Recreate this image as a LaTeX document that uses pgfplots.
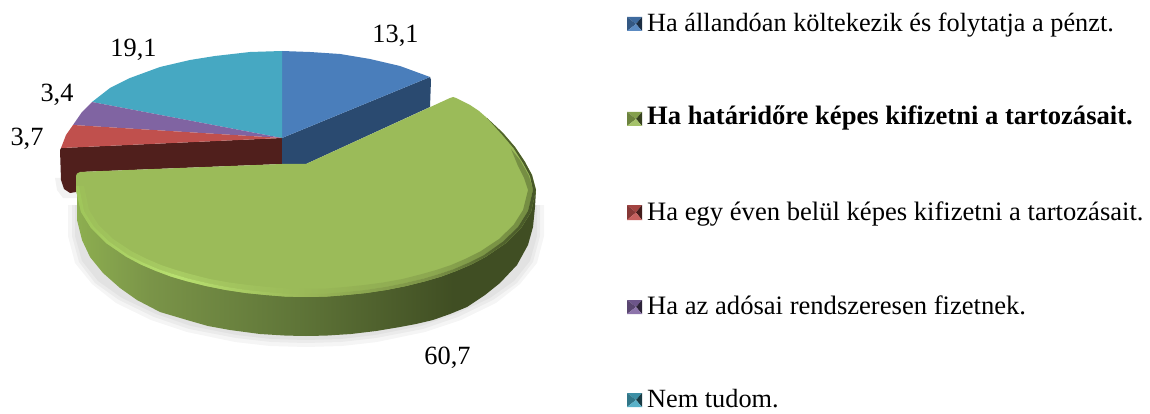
\documentclass[border=0pt]{standalone}
\usepackage{fontspec}
\setmainfont{Liberation Serif}
\usepackage{pgfplots}
\pgfplotsset{compat=1.18}
\definecolor{cblue}{HTML}{4A7EBB}
\definecolor{cgreen}{HTML}{9BBB59}
\definecolor{cred}{HTML}{C0504D}
\definecolor{cpurple}{HTML}{8064A2}
\definecolor{cteal}{HTML}{46A8C2}
\definecolor{dblue}{HTML}{2A4A70}
\definecolor{dred}{HTML}{501F1C}
\definecolor{sa}{HTML}{8DAE50}\definecolor{sb}{HTML}{7A9448}\definecolor{sc}{HTML}{5F7538}\definecolor{sd}{HTML}{404E23}
\definecolor{ra}{HTML}{9FC55A}\definecolor{rb}{HTML}{B8E070}\definecolor{rc}{HTML}{9AB858}\definecolor{rd}{HTML}{7A9046}\definecolor{re}{HTML}{55672F}\definecolor{rf}{HTML}{465628}
\pgfdeclarehorizontalshading{greenside}{100bp}{color(0bp)=(sa); color(25bp)=(sa); color(33bp)=(sb); color(49bp)=(sc); color(66bp)=(sd); color(75bp)=(sd); color(100bp)=(sd)}
\pgfdeclarehorizontalshading{greenrim}{100bp}{color(0bp)=(ra); color(25bp)=(ra); color(36bp)=(rb); color(50bp)=(rc); color(64bp)=(rd); color(70bp)=(re); color(75bp)=(rf); color(100bp)=(rf)}
\newcommand{\legrow}[4]{% top y, mid y, bottom y, colour
  \addplot[fill=#4!85!black,draw=none] coordinates {(627,#1) (642,#1) (636,#2)} -- cycle;
  \addplot[fill=#4!70!black,draw=none] coordinates {(627,#1) (636,#2) (627,#3)} -- cycle;
  \addplot[fill=#4!35!black,draw=none] coordinates {(642,#1) (636,#2) (642,#3)} -- cycle;
  \addplot[fill=#4!90!white,draw=none] coordinates {(627,#3) (642,#3) (636,#2)} -- cycle;
}
\newcommand{\txt}{\fontsize{26.3}{29}\selectfont}
\newcommand{\txtb}{\fontsize{26.6}{29}\selectfont}
\begin{document}
\begin{tikzpicture}
\begin{axis}[
  scale only axis, width=1150pt, height=414pt,
  xmin=0, xmax=1150, ymin=0, ymax=414, y dir=reverse,
  hide axis, clip=false, no marks,
]
\addplot[draw=none,forget plot] coordinates {(0,0) (1150,414)};
% ---- shadow
\addplot[fill=black,fill opacity=0.04,draw=none] coordinates {(68,205)(68,236)(75,263)(92,284)(116,303)(151,320)(187,332)(235,342)(270,346)(306,347)(342,346)(377,342)(425,332)(461,320)(496,303)(520,284)(537,263)(544,236)(544,205)} -- cycle;
\addplot[fill=black,fill opacity=0.04,draw=none] coordinates {(72,205)(72,236)(79,262)(95,283)(119,300)(154,317)(189,329)(236,338)(271,342)(306,343)(341,342)(376,338)(423,329)(458,317)(493,300)(517,283)(533,262)(540,236)(540,205)} -- cycle;
\addplot[fill=black,fill opacity=0.04,draw=none] coordinates {(75,205)(75,236)(82,261)(98,281)(122,298)(156,314)(191,326)(237,335)(271,339)(306,340)(341,339)(375,335)(421,326)(456,314)(490,298)(514,281)(530,261)(537,236)(537,205)} -- cycle;
\addplot[fill=black,fill opacity=0.05,draw=none] coordinates {(55,178)(57,190)(63,198)(80,198)(80,178)} -- cycle;
% ---- rear slices: sides
\addplot[fill=dred,draw=none] coordinates {(60,150)(61,148)(282,138)(282,164)(80,172)(76,192)(70,193)(64,189)(61,180)} -- cycle;
\addplot[fill=dblue,draw=none] coordinates {(282,138)(430,77)(431,80)(430,107)(306,164)(282,164)} -- cycle;
% ---- rear slices: tops
\addplot[fill=cblue,draw=none] coordinates {(282,138)(282,51)(310,52)(340,54)(370,59)(400,66)(430,77)} -- cycle;
\addplot[fill=cteal,draw=none] coordinates {(282,138)(92,102)(110,88)(130,78)(160,67)(190,60)(215,56)(250,52)(282,51)} -- cycle;
\addplot[fill=cpurple,draw=none] coordinates {(282,138)(73,125)(82,112)(92,102)} -- cycle;
\addplot[fill=cred,draw=none] coordinates {(282,138)(61,148)(66,135)(73,125)} -- cycle;
% ---- green side
\addplot[shading=greenside,draw=none] coordinates {(77,190)(77,220)(82,240)(90,257)(103,273)(120,288)(137,300)(160,312)(187,320)(208,326)(230,330)(260,334)(286,335.6)(306,336)(326,335.6)(351,334)(376,331)(400,327)(416,324)(433,320)(450,314)(467,307)(485,295)(500,283)(517,265)(528,245)(533,227)(535,207)(536,190)} -- cycle;
% ---- green top
\addplot[fill=cgreen,draw=none] coordinates {(306,164)(450,98)(453,97)(456,98)(470,105)(479,111)(487,118)(503,133)(515,147)(525,162)(532,175)(536,190)(531,212)(521,228)(506,243)(486,256.6)(471,264.6)(456,271)(441,276.6)(426,281)(406,286)(386,290)(366,293)(346,295)(326,296.6)(306,297)(286,296.6)(266,295)(246,293)(226,290)(206,286)(186,281)(171,276.6)(156,271)(141,264.6)(126,256.6)(106,243)(91,228)(81,212)(76,190)(76,176)(77,173.5)(80,172)(90,171.5)(180,168)(282,164)} -- cycle;
% ---- green rim: soft inner band, then crisp outer band
\addplot[shading=greenrim,draw=none,fill opacity=0.45] coordinates {(79,186)(84,211)(94,227)(109,241.5)(128,255)(143,262.5)(158,269)(173,274)(188,278.5)(207,283)(227,287)(247,290)(266.5,292)(286,293.6)(306,294)(326,293.6)(345.5,292)(365,290)(385,287)(405,283)(424,278.5)(439,274)(454,269)(469,262.5)(484,255)(503,241.5)(518,227)(528,211)(533,190)(529,176)(520,160)(511,149)(518,166)(524,178)(528,190)(523,210)(513.5,225)(499,239)(480,251.6)(465,259)(451,265)(436,270)(422,274)(402.5,279)(383,282.5)(364,285)(344.6,287)(325,288.6)(306,289)(287,288.6)(267.4,287)(248,285)(229,282.5)(209.5,279)(190,274)(176,270)(161,265)(147,259)(132,251.6)(113,239)(98.5,225)(89,210)(84,186)} -- cycle;
\addplot[shading=greenrim,draw=none] coordinates {(76,186)(76,190)(81,212)(91,228)(106,243)(126,256.6)(141,264.6)(156,271)(171,276.6)(186,281)(206,286)(226,290)(246,293)(266,295)(286,296.6)(306,297)(326,296.6)(346,295)(366,293)(386,290)(406,286)(426,281)(441,276.6)(456,271)(471,264.6)(486,256.6)(506,243)(521,228)(531,212)(536,190)(532,175)(525,162)(515,147)(503,133)(487,118)(502,134.5)(513.5,148)(523,163)(530,176)(533,190)(528,211)(518,227)(503,241.5)(484,255)(469,262.5)(454,269)(439,274)(424,278.5)(405,283)(385,287)(365,290)(345.5,292)(326,293.6)(306,294)(286,293.6)(266.5,292)(247,290)(227,287)(207,283)(188,278.5)(173,274)(158,269)(143,262.5)(128,255)(109,241.5)(94,227)(84,211)(79,186)} -- cycle;
% ---- data labels
\node[anchor=base,font=\txt] at (axis cs:395.5,43) {13,1};
\node[anchor=base,font=\txt] at (axis cs:133.5,57) {19,1};
\node[anchor=base,font=\txt] at (axis cs:57,102) {3,4};
\node[anchor=base,font=\txt] at (axis cs:27,146) {3,7};
\node[anchor=base,font=\txt] at (axis cs:447.5,364) {60,7};
% ---- legend
\legrow{17}{24}{31}{cblue}
\legrow{112}{119}{126}{cgreen}
\legrow{205}{212.5}{220}{cred}
\legrow{300}{307}{314}{cpurple}
\legrow{393}{400}{407}{cteal}
\node[anchor=base west,inner sep=0pt,font=\txt] at (axis cs:647,32) {Ha állandóan költekezik és folytatja a pénzt.};
\node[anchor=base west,inner sep=0pt,font=\txtb\bfseries] at (axis cs:647,125) {Ha határidőre képes kifizetni a tartozásait.};
\node[anchor=base west,inner sep=0pt,font=\txtb] at (axis cs:647,220) {Ha egy éven belül képes kifizetni a tartozásait.};
\node[anchor=base west,inner sep=0pt,font=\txtb] at (axis cs:647,314) {Ha az adósai rendszeresen fizetnek.};
\node[anchor=base west,inner sep=0pt,font=\txt] at (axis cs:647,407) {Nem tudom.};
\end{axis}
\end{tikzpicture}
\end{document}
